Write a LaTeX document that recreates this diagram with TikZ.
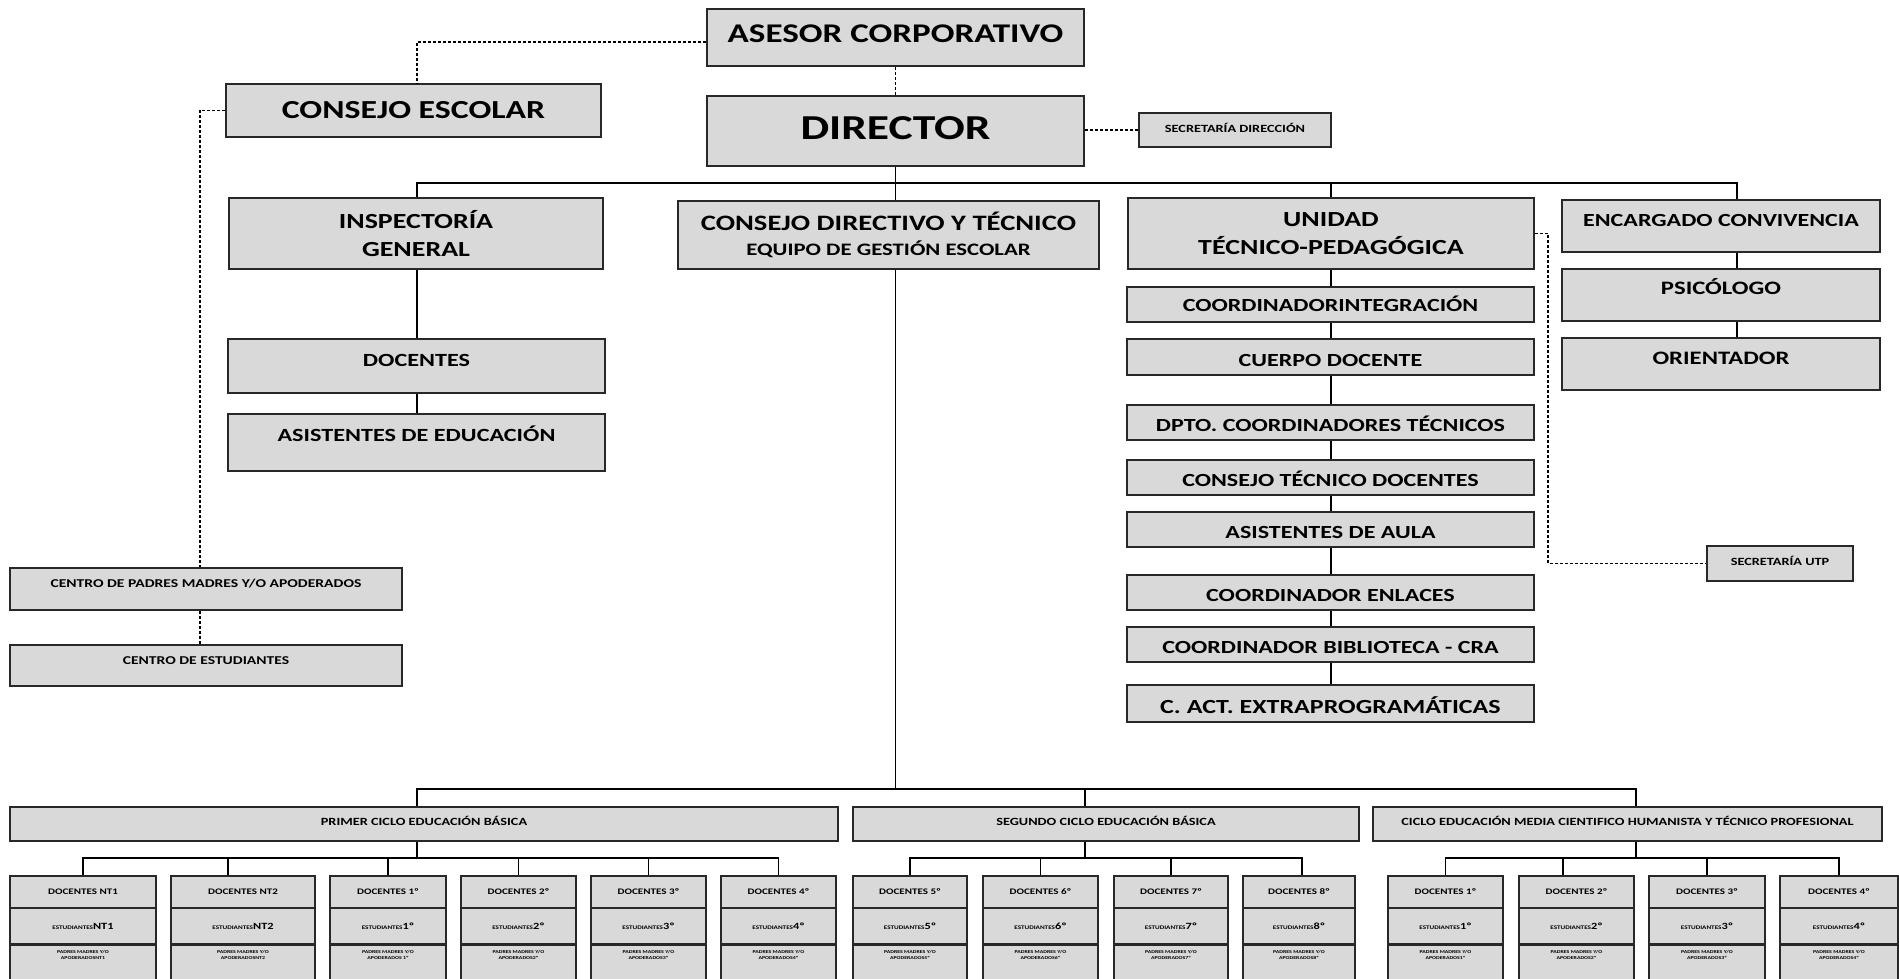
\documentclass[tikz,border=0pt]{standalone}
\usepackage{fontspec}
\setmainfont{Carlito}[FakeStretch=1.3]
\usetikzlibrary{calc}
\definecolor{boxgray}{RGB}{217,217,217}
\definecolor{edgegray}{RGB}{40,40,40}
\newcommand\fsz[2]{\fontsize{#1}{#2}\selectfont}
\newcommand\gradecol[5]{%
  \node[gbox, minimum width=#3pt, minimum height=32pt, font=\bfseries\fsz{8.5}{10}, text height=5.5pt, text depth=0pt] (#1d) at (#2,892) {DOCENTES #4};
  \node[gbox, minimum width=#3pt, minimum height=36pt, font=\bfseries\fsz{9.5}{11}, text height=6pt, text depth=0pt] (#1e) at (#2,926) {{\fsz{5.5}{6}ESTUDIANTES}#4};
  \node[gbox, minimum width=#3pt, minimum height=46pt, anchor=north, label={[font=\bfseries\fsz{4.5}{5.5}, align=center, anchor=north, inner sep=0pt, yshift=-6.5pt]north:PADRES MADRES Y/O\\APODERADOS#5}] (#1p) at (#2,944) {};
}
\begin{document}
\begin{tikzpicture}[x=1pt,y=-1pt,
  box/.style={draw=edgegray, fill=boxgray, line width=1.7pt, inner sep=0pt, align=center},
  gbox/.style={box, line width=1.5pt},
  conn/.style={line width=1.5pt, black},
  dconn/.style={line width=1.4pt, black, dash pattern=on 3pt off 2pt},
  lift/.style 2 args={text height=#1pt, text depth=#2pt},
  chain/.style={box, minimum width=407pt, font=\bfseries\fsz{18.5}{22}, lift={18}{0}},
]
\useasboundingbox (0,0) rectangle (1899,978);
\clip (0,0) rectangle (1899,978);
\fill[white] (0,0) rectangle (1899,978);

% ---------- upper part ----------
\node[box, minimum width=377pt, minimum height=57pt, font=\bfseries\fsz{27}{32}, lift={17.4}{7}] (asesor) at (895.5,37.5) {ASESOR CORPORATIVO};
\node[box, minimum width=375pt, minimum height=53pt, font=\bfseries\fsz{26}{31}, lift={16.7}{1}] (consejoesc) at (413.5,110.5) {CONSEJO ESCOLAR};
\node[box, minimum width=377pt, minimum height=70pt, font=\bfseries\fsz{35}{40}, lift={22.5}{6}] (director) at (895.5,131) {DIRECTOR};
\node[box, minimum width=192pt, minimum height=34pt, font=\bfseries\fsz{11}{13}, lift={7}{3}] (secdir) at (1235,130) {SECRETARÍA DIRECCIÓN};

\node[box, minimum width=374pt, minimum height=71pt, font=\bfseries\fsz{21.5}{28}] (inspect) at (416,233.5) {INSPECTORÍA\\GENERAL};
\node[box, minimum width=421pt, minimum height=68pt, font=\bfseries\fsz{22}{25}] (cdt) at (888.5,235) {CONSEJO DIRECTIVO Y TÉCNICO\\{\fsz{17.5}{22}EQUIPO DE GESTIÓN ESCOLAR}};
\node[box, minimum width=406pt, minimum height=71pt, font=\bfseries\fsz{21.5}{28}] (utp) at (1331,233.5) {UNIDAD\\TÉCNICO-PEDAGÓGICA};
\node[box, minimum width=318pt, minimum height=52pt, font=\bfseries\fsz{18.5}{22}, lift={12}{12}] (encarg) at (1721,226) {ENCARGADO CONVIVENCIA};
\node[box, minimum width=318pt, minimum height=52pt, font=\bfseries\fsz{19}{22}, lift={12.2}{14}] (psico) at (1721,295) {PSICÓLOGO};
\node[box, minimum width=318pt, minimum height=52pt, font=\bfseries\fsz{19}{22}, lift={12.2}{12}] (orient) at (1721,364) {ORIENTADOR};

\node[box, minimum width=377pt, minimum height=54pt, font=\bfseries\fsz{18.6}{22}, lift={12}{12}] (docentes) at (416.5,366) {DOCENTES};
\node[box, minimum width=377pt, minimum height=57pt, font=\bfseries\fsz{18.6}{22}, lift={12}{15}] (asisted) at (416.5,442.5) {ASISTENTES DE EDUCACIÓN};
\node[box, minimum width=392pt, minimum height=42pt, font=\bfseries\fsz{12}{14}, lift={7.7}{10}] (cpadres) at (206,589) {CENTRO DE PADRES MADRES Y/O APODERADOS};
\node[box, minimum width=392pt, minimum height=41pt, font=\bfseries\fsz{12}{14}, lift={7.7}{9}] (cestud) at (206,665.5) {CENTRO DE ESTUDIANTES};

\node[chain, minimum height=35pt, lift={14}{0}] (coordint) at (1330.5,304.5) {COORDINADORINTEGRACIÓN};
\node[chain, minimum height=36pt] (cuerpo) at (1330.5,357) {CUERPO DOCENTE};
\node[chain, minimum height=35pt] (dpto) at (1330.5,422.5) {DPTO. COORDINADORES TÉCNICOS};
\node[chain, minimum height=35pt] (ctd) at (1330.5,477.5) {CONSEJO TÉCNICO DOCENTES};
\node[chain, minimum height=35pt] (asaula) at (1330.5,529.5) {ASISTENTES DE AULA};
\node[chain, minimum height=35pt] (enlaces) at (1330.5,592.5) {COORDINADOR ENLACES};
\node[chain, minimum height=35pt] (biblio) at (1330.5,644.5) {COORDINADOR BIBLIOTECA - CRA};
\node[chain, minimum height=37pt, font=\bfseries\fsz{20}{24}, lift={19}{0}] (extra) at (1330.5,703.5) {C. ACT. EXTRAPROGRAMÁTICAS};
\node[box, minimum width=146pt, minimum height=35pt, font=\bfseries\fsz{11}{13}, lift={7}{3}] (secutp) at (1780,563.5) {SECRETARÍA UTP};

% ---------- lower part ----------
\node[box, minimum width=828pt, minimum height=34pt, font=\bfseries\fsz{11}{13}, lift={7}{4}] (primer) at (424,824) {PRIMER CICLO EDUCACIÓN BÁSICA};
\node[box, minimum width=506pt, minimum height=34pt, font=\bfseries\fsz{11}{13}, lift={7}{4}] (segundo) at (1106,824) {SEGUNDO CICLO EDUCACIÓN BÁSICA};
\node[box, minimum width=509pt, minimum height=34pt, font=\bfseries\fsz{11}{13}, lift={7}{4}] (media) at (1627.5,824) {CICLO EDUCACIÓN MEDIA CIENTIFICO HUMANISTA Y TÉCNICO PROFESIONAL};

\gradecol{c1}{83}{146}{NT1}{NT1}
\gradecol{c2}{243}{144}{NT2}{NT2}
\gradecol{c3}{388}{116}{1º}{ 1º}
\gradecol{c4}{518.5}{115}{2º}{2º}
\gradecol{c5}{648.5}{115}{3º}{3º}
\gradecol{c6}{778.5}{115}{4º}{4º}
\gradecol{c7}{910}{114}{5º}{5º}
\gradecol{c8}{1040.5}{115}{6º}{6º}
\gradecol{c9}{1171}{114}{7º}{7º}
\gradecol{c10}{1299}{112}{8º}{8º}
\gradecol{c11}{1445.5}{115}{1º}{1º}
\gradecol{c12}{1576.5}{115}{2º}{2º}
\gradecol{c13}{1707}{116}{3º}{3º}
\gradecol{c14}{1839}{118}{4º}{4º}

% ---------- helper coordinates ----------
\coordinate (bus) at (0,183);
\coordinate (lt) at (417,0);
\coordinate (encTap) at (1737,0);
\coordinate (dl) at (200,0);
\coordinate (ur) at (1548,0);
\coordinate (ux) at (1331,0);
\coordinate (tb) at (0,789);
\coordinate (sb) at (0,858);
\coordinate (sTap) at (1085,0);
\coordinate (mTap) at (1636,0);
\coordinate (t2) at (228,0);
\coordinate (t10) at (1302,0);
\coordinate (t12) at (1563,0);

% ---------- dashed connectors ----------
\draw[dconn] (asesor.south) -- (director.north);
\draw[dconn] ([yshift=-4.5pt]asesor.west) -| (lt |- consejoesc.north);
\draw[dconn] (director.east |- secdir.west) -- (secdir.west);
\draw[dconn] (consejoesc.west) -- (dl |- consejoesc.west) -- (dl |- cpadres.north);
\draw[dconn] (dl |- cpadres.south) -- (dl |- cestud.north);
\draw[dconn] (utp.east) -- (ur |- utp.east) |- (secutp.west);

% ---------- solid connectors ----------
\draw[conn] (director.south) -- (director.south |- cdt.north);
\draw[conn] (lt |- inspect.north) |- (encTap |- bus) -- (encTap |- encarg.north);
\draw[conn] (utp.north) -- (utp.north |- bus);
\draw[conn] (encTap |- encarg.south) -- (encTap |- psico.north);
\draw[conn] (encTap |- psico.south) -- (encTap |- orient.north);
\draw[conn] (lt |- inspect.south) -- (lt |- docentes.north);
\draw[conn] (lt |- docentes.south) -- (lt |- asisted.north);
\foreach \a/\b in {utp/coordint, coordint/cuerpo, cuerpo/dpto, dpto/ctd, ctd/asaula, asaula/enlaces, enlaces/biblio, biblio/extra}
  \draw[conn] (ux |- \a.south) -- (ux |- \b.north);

\draw[conn] (director.south |- cdt.south) -- (director.south |- tb);
\draw[conn] (lt |- primer.north) |- (mTap |- tb) -- (mTap |- media.north);
\draw[conn] (sTap |- tb) -- (sTap |- segundo.north);

\draw[conn] (lt |- primer.south) -- (lt |- sb);
\draw[conn] (c1d.north) |- (c6d.north |- sb) -- (c6d.north);
\draw[conn] (t2 |- c2d.north) -- (t2 |- sb);
\foreach \n in {c3,c4,c5} \draw[conn] (\n d.north) -- (\n d.north |- sb);

\draw[conn] (sTap |- segundo.south) -- (sTap |- sb);
\draw[conn] (c7d.north) |- (t10 |- sb) -- (t10 |- c10d.north);
\foreach \n in {c8,c9} \draw[conn] (\n d.north) -- (\n d.north |- sb);

\draw[conn] (mTap |- media.south) -- (mTap |- sb);
\draw[conn] (c11d.north) |- (c14d.north |- sb) -- (c14d.north);
\draw[conn] (t12 |- c12d.north) -- (t12 |- sb);
\draw[conn] (c13d.north) -- (c13d.north |- sb);
\end{tikzpicture}
\end{document}
